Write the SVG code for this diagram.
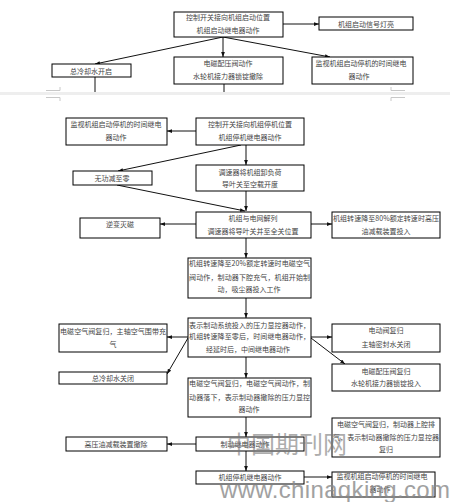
<svg xmlns="http://www.w3.org/2000/svg" width="450" height="502" viewBox="0 0 450 502">
<style>
.b{fill:#fff;stroke:#000;stroke-width:1}
.t{font-family:"Noto Sans CJK SC","Noto Sans",sans-serif;font-size:7px;fill:#444;text-anchor:middle}
.l{font-family:"Noto Sans CJK SC","Noto Sans",sans-serif;font-size:7px;fill:#444}
.c{fill:none;stroke:#111;stroke-width:1}
.wm{font-family:"Noto Sans CJK SC",sans-serif;fill:#777;opacity:0.6}
.ww{font-family:"Liberation Sans",Arial,sans-serif;fill:#8a8a8a;opacity:0.8}
</style>
<defs>
<marker id="a" viewBox="0 0 8 6" refX="8" refY="3" markerWidth="5" markerHeight="4" orient="auto" markerUnits="userSpaceOnUse">
<path d="M0,0 L8,3 L0,6 z" fill="#111"/>
</marker>
</defs>
<rect x="0" y="0" width="450" height="502" fill="#fff"/>
<rect x="0" y="92" width="450" height="3" fill="#eeeeee"/>
<path d="M46,90.5 H60 V87 M46,97.5 H60 V101 M391,90.5 H405 M391,90.5 V87 M391,97.5 H405 M391,97.5 V101" fill="none" stroke="#c8c8c8" stroke-width="1"/>

<g id="connectors">
<line class="c" x1="283" y1="24" x2="319" y2="24" marker-end="url(#a)"/>
<line class="c" x1="223" y1="37" x2="223" y2="57" marker-end="url(#a)"/>
<line class="c" x1="223" y1="37" x2="95" y2="64" marker-end="url(#a)"/>
<line class="c" x1="223" y1="37" x2="330" y2="57" marker-end="url(#a)"/>
<line class="c" x1="95" y1="77" x2="95" y2="92"/>
<line class="c" x1="224" y1="84" x2="224" y2="92"/>

<line class="c" x1="196" y1="131" x2="167" y2="131" marker-end="url(#a)"/>
<line class="c" x1="246" y1="145" x2="246" y2="165" marker-end="url(#a)"/>
<line class="c" x1="241" y1="145" x2="118" y2="171" marker-end="url(#a)"/>
<line class="c" x1="117" y1="185" x2="245" y2="211" marker-end="url(#a)"/>
<line class="c" x1="246" y1="191" x2="246" y2="211" marker-end="url(#a)"/>
<line class="c" x1="196" y1="224" x2="160" y2="224" marker-end="url(#a)"/>
<line class="c" x1="311" y1="224" x2="332" y2="224" marker-end="url(#a)"/>
<line class="c" x1="246" y1="238" x2="246" y2="258" marker-end="url(#a)"/>
<line class="c" x1="246" y1="298" x2="246" y2="318" marker-end="url(#a)"/>
<line class="c" x1="188" y1="337" x2="167" y2="337" marker-end="url(#a)"/>
<line class="c" x1="188" y1="338" x2="167" y2="374" marker-end="url(#a)"/>
<line class="c" x1="311" y1="337" x2="332" y2="337" marker-end="url(#a)"/>
<line class="c" x1="311" y1="338" x2="345" y2="364" marker-end="url(#a)"/>
<line class="c" x1="246" y1="357" x2="246" y2="378" marker-end="url(#a)"/>
<line class="c" x1="246" y1="417" x2="246" y2="437" marker-end="url(#a)"/>
<line class="c" x1="196" y1="444" x2="167" y2="444" marker-end="url(#a)"/>
<line class="c" x1="246" y1="451" x2="246" y2="471" marker-end="url(#a)"/>
<line class="c" x1="304" y1="477" x2="332" y2="477" marker-end="url(#a)"/>
</g>

<g id="nA"><rect class="b" x="174" y="12" width="109" height="25"/>
<text class="t" x="228" y="20">控制开关接向机组启动位置</text>
<text class="t" x="228" y="32.5">机组启动继电器动作</text></g>
<g id="nB"><rect class="b" x="319" y="17" width="94" height="13"/>
<text class="t" x="366" y="26.5">机组启动信号灯亮</text></g>
<g id="nC"><rect class="b" x="174" y="57" width="109" height="27"/>
<text class="t" x="228" y="65.5">电磁配压阀动作</text>
<text class="t" x="228" y="78.5">水轮机接力器锁锭撤除</text></g>
<g id="nD"><rect class="b" x="52" y="64" width="79" height="13"/>
<text class="t" x="91" y="73.5">总冷却水开启</text></g>
<g id="nE"><rect class="b" x="312" y="57" width="101" height="27"/>
<text class="t" x="361" y="65.5">监视机组启动停机的时间继电</text>
<text class="t" x="359" y="78.5">器动作</text></g>

<g id="nF"><rect class="b" x="196" y="118" width="108" height="27"/>
<text class="t" x="250" y="126.5">控制开关接向机组停机位置</text>
<text class="t" x="250" y="139.5">机组停机继电器动作</text></g>
<g id="nG"><rect class="b" x="66" y="118" width="101" height="27"/>
<text class="t" x="116" y="126.5">监视机组启动停机的时间继电</text>
<text class="t" x="116" y="139.5">器动作</text></g>
<g id="nI"><rect class="b" x="73" y="171" width="79" height="14"/>
<text class="t" x="112" y="180.5">无功减至零</text></g>
<g id="nH"><rect class="b" x="196" y="165" width="108" height="26"/>
<text class="t" x="250" y="174.5">调速器将机组卸负荷</text>
<text class="t" x="250" y="186.5">导叶关至空载开度</text></g>
<g id="nJ"><rect class="b" x="196" y="212" width="115" height="26"/>
<text class="t" x="253" y="220.5">机组与电网解列</text>
<text class="t" x="253" y="233.5">调速器将导叶关并至全关位置</text></g>
<g id="nK"><rect class="b" x="80" y="218" width="80" height="20"/>
<text class="t" x="120" y="226.5">逆变灭磁</text></g>
<g id="nL"><rect class="b" x="332" y="212" width="108" height="26"/>
<text class="l" x="333" y="220.5" textLength="106" lengthAdjust="spacing">机组转速降至80%额定转速时高压</text>
<text class="t" x="386" y="233.5">油减载装置投入</text></g>
<g id="nM"><rect class="b" x="188" y="258" width="123" height="40"/>
<text class="l" x="189" y="265.5" textLength="121" lengthAdjust="spacing">机组转速降至20%额定转速时电磁空气</text>
<text class="l" x="189" y="279.5" textLength="121" lengthAdjust="spacing">阀动作，制动器下腔充气，机组开始制</text>
<text class="t" x="249" y="291.5">动，吸尘器投入工作</text></g>
<g id="nN"><rect class="b" x="188" y="318" width="123" height="39"/>
<text class="l" x="189" y="327.5" textLength="121" lengthAdjust="spacing">表示制动系统投入的压力显控器动作，</text>
<text class="l" x="189" y="338.5" textLength="121" lengthAdjust="spacing">机组转速降至零后，时间继电器动作，</text>
<text class="t" x="248" y="351.5">经延时后，中间继电器动作</text></g>
<g id="nO"><rect class="b" x="59" y="324" width="108" height="28"/>
<text class="l" x="60" y="333.5" textLength="106" lengthAdjust="spacing">电磁空气阀复归，主轴空气围带充</text>
<text class="t" x="113" y="346.5">气</text></g>
<g id="nP"><rect class="b" x="59" y="372" width="108" height="12"/>
<text class="t" x="113" y="380.5">总冷却水关闭</text></g>
<g id="nQ"><rect class="b" x="332" y="324" width="108" height="28"/>
<text class="t" x="386" y="332.5">电动阀复归</text>
<text class="t" x="386" y="346.5">主轴密封水关闭</text></g>
<g id="nR"><rect class="b" x="332" y="364" width="108" height="27"/>
<text class="t" x="386" y="373.5">电磁配压阀复归</text>
<text class="t" x="386" y="385.5">水轮机接力器锁锭投入</text></g>
<g id="nS"><rect class="b" x="188" y="378" width="123" height="39"/>
<text class="l" x="189" y="385.5" textLength="121" lengthAdjust="spacing">电磁空气阀复归，电磁空气阀动作，制</text>
<text class="l" x="189" y="399.5" textLength="121" lengthAdjust="spacing">动器落下，表示制动器撤除的压力显控</text>
<text class="t" x="249" y="411.5">器动作</text></g>
<g id="nT"><rect class="b" x="332" y="418" width="108" height="39"/>
<text class="t" x="386" y="426.5">电磁空气阀复归，制动器上腔排</text>
<text class="l" x="333" y="439.5" textLength="106" lengthAdjust="spacing">气，表示制动器撤除的压力显控器</text>
<text class="t" x="386" y="451.5">复归</text></g>
<g id="nU"><rect class="b" x="196" y="437" width="108" height="14"/>
<text class="t" x="245" y="446.5">制动继电器动作</text></g>
<g id="nV"><rect class="b" x="66" y="437" width="101" height="14"/>
<text class="t" x="116" y="446.5">高压油减载装置撤除</text></g>
<g id="nW"><rect class="b" x="196" y="471" width="108" height="13"/>
<text class="t" x="250" y="479.5">机组停机继电器动作</text></g>
<g id="nX"><rect class="b" x="332" y="472" width="103" height="25"/>
<text class="t" x="382" y="478.5">监视机组启动停机的时间继电</text>
<text class="t" x="380" y="491.5">器动作</text></g>

<g id="watermark">
<text class="wm" x="227" y="453" font-size="24" textLength="120" lengthAdjust="spacingAndGlyphs">中国期刊网</text>
<text class="ww" x="220" y="498" font-size="24" textLength="230" lengthAdjust="spacing">www.chinaqking.com</text>
</g>
</svg>
